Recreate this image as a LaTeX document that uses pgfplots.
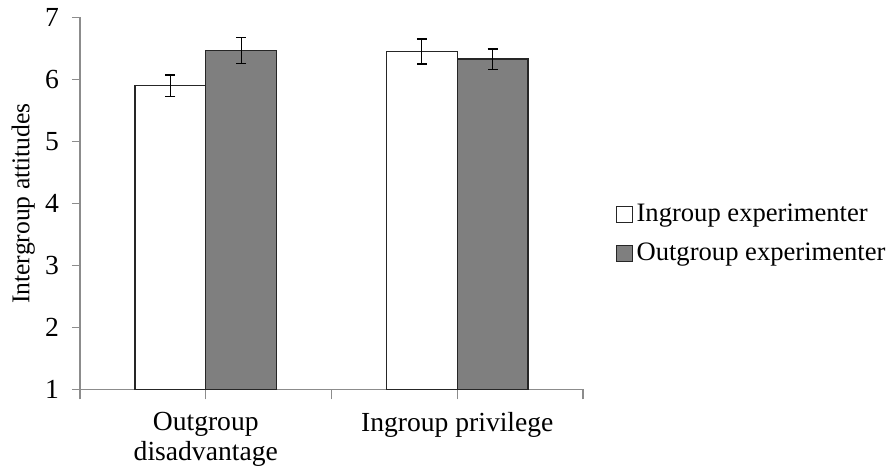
\documentclass[border=0pt]{standalone}
\usepackage{pgfplots}
\pgfplotsset{compat=1.18}
\usepackage{fontspec}
\setmainfont{Liberation Serif}
\definecolor{barg}{HTML}{7F7F7F}
\definecolor{axg}{HTML}{8C8C8C}
\definecolor{edge}{HTML}{262626}
\begin{document}
\begin{tikzpicture}
\useasboundingbox (0,0) rectangle (447pt,234.5pt);
\begin{axis}[
  scale only axis,
  width=251.5pt, height=186pt,
  at={(40pt,39.75pt)}, anchor=south west,
  xmin=-0.5, xmax=1.5, ymin=1, ymax=7,
  axis x line*=bottom, axis y line*=left,
  axis line style={axg, line width=0.7pt},
  every tick/.style={axg, line width=0.7pt},
  tick align=outside,
  ytick={1,2,3,4,5,6,7},
  major tick length=4pt,
  xtick={-0.5,0.5,1.5}, xticklabels={},
  x tick style={/pgfplots/major tick length=5pt},
  extra x ticks={0,1},
  extra x tick labels={Outgroup\\disadvantage, Ingroup privilege},
  extra x tick style={major tick length=0pt, tick label style={align=center, yshift=-8pt, font=\fontsize{13.8}{15}\selectfont}},
  /pgf/number format/assume math mode=true,
  tick label style={font=\fontsize{13.8}{15}\selectfont},
  yticklabel style={xshift=-3pt},
  ylabel={Intergroup attitudes},
  ylabel style={font=\fontsize{12.8}{14.5}\selectfont, at={(axis description cs:-0.113,0.5)}, anchor=center},
  legend style={draw=none, fill=none, at={(1.064,0.418)}, anchor=west,
    font=\fontsize{13.3}{15}\selectfont, row sep=5pt, inner sep=0pt,
    /tikz/every even column/.append style={column sep=0pt}},
  legend cell align=left,
]
\addplot[ybar, bar width=0.282, bar shift=0, fill=white, draw=edge, line width=0.7pt,
  legend image code/.code={\draw[fill=white, draw=edge, line width=0.5pt] (0pt,-4pt) rectangle (8pt,4pt);},
  error bars/.cd, y dir=both, y explicit,
  error bar style={black, line width=0.7pt},
  error mark options={rotate=90, mark size=2.5pt, black, line width=0.7pt}]
  coordinates {(-0.141,5.90) +- (0,0.17) (0.859,6.45) +- (0,0.20)};
\addlegendentry{Ingroup experimenter}
\addplot[ybar, bar width=0.282, bar shift=0, fill=barg, draw=edge, line width=0.7pt,
  legend image code/.code={\draw[fill=barg, draw=edge, line width=0.5pt] (0pt,-4pt) rectangle (8pt,4pt);},
  error bars/.cd, y dir=both, y explicit,
  error bar style={black, line width=0.7pt},
  error mark options={rotate=90, mark size=2.5pt, black, line width=0.7pt}]
  coordinates {(0.141,6.47) +- (0,0.21) (1.141,6.33) +- (0,0.165)};
\addlegendentry{Outgroup experimenter}
\end{axis}
\end{tikzpicture}
\end{document}
